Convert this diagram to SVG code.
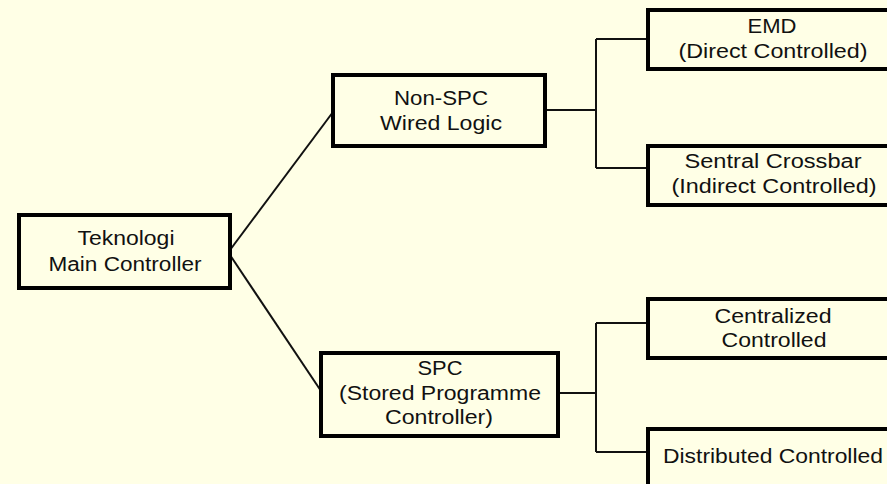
<svg xmlns="http://www.w3.org/2000/svg" width="887" height="484" viewBox="0 0 887 484">
<style>
.box{fill:#FFFFE6;stroke:#000;stroke-width:4}
.t{font-family:"Liberation Sans",Arial,sans-serif;font-size:20px;fill:#111;text-anchor:middle}
.c{fill:none;stroke:#111;stroke-width:2}
</style>
<rect x="0" y="0" width="887" height="484" fill="#FFFFE6"/>
<g id="connectors">
<path class="c" d="M230,250 L333,112"/>
<path class="c" d="M230,255 L321,391"/>
<path class="c" d="M545,110 H596 M596,39 V168 M596,39 H648 M596,168 H648"/>
<path class="c" d="M558,393 H596 M596,323 V452 M596,323 H648 M596,452 H648"/>
</g>
<g id="main">
<rect class="box" x="19" y="215" width="211" height="73"/>
<text class="t" x="126" y="245" textLength="97" lengthAdjust="spacingAndGlyphs">Teknologi</text>
<text class="t" x="125" y="271" textLength="153" lengthAdjust="spacingAndGlyphs">Main Controller</text>
</g>
<g id="nonspc">
<rect class="box" x="333" y="75" width="212" height="71"/>
<text class="t" x="441" y="105" textLength="94" lengthAdjust="spacingAndGlyphs">Non-SPC</text>
<text class="t" x="441" y="130" textLength="122" lengthAdjust="spacingAndGlyphs">Wired Logic</text>
</g>
<g id="spc">
<rect class="box" x="321" y="353" width="237" height="83"/>
<text class="t" x="440" y="375" textLength="45" lengthAdjust="spacingAndGlyphs">SPC</text>
<text class="t" x="440" y="400" textLength="202" lengthAdjust="spacingAndGlyphs">(Stored Programme</text>
<text class="t" x="439" y="424" textLength="108" lengthAdjust="spacingAndGlyphs">Controller)</text>
</g>
<g id="emd">
<rect class="box" x="648" y="10" width="252" height="59"/>
<text class="t" x="772" y="33" textLength="49" lengthAdjust="spacingAndGlyphs">EMD</text>
<text class="t" x="773" y="58" textLength="189" lengthAdjust="spacingAndGlyphs">(Direct Controlled)</text>
</g>
<g id="sentral">
<rect class="box" x="648" y="146" width="252" height="59"/>
<text class="t" x="773" y="168" textLength="177" lengthAdjust="spacingAndGlyphs">Sentral Crossbar</text>
<text class="t" x="774" y="193" textLength="205" lengthAdjust="spacingAndGlyphs">(Indirect Controlled)</text>
</g>
<g id="centralized">
<rect class="box" x="648" y="299" width="252" height="59"/>
<text class="t" x="773" y="323" textLength="117" lengthAdjust="spacingAndGlyphs">Centralized</text>
<text class="t" x="774" y="347" textLength="105" lengthAdjust="spacingAndGlyphs">Controlled</text>
</g>
<g id="distributed">
<rect class="box" x="648" y="429" width="252" height="70"/>
<text class="t" x="773" y="463" textLength="220" lengthAdjust="spacingAndGlyphs">Distributed Controlled</text>
</g>
</svg>
